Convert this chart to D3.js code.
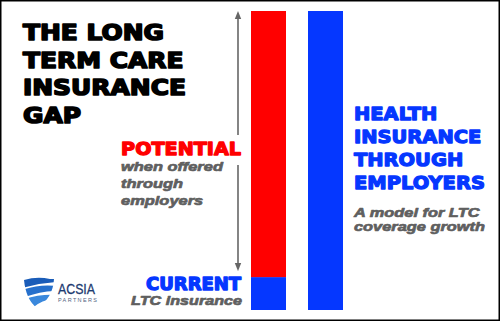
<!DOCTYPE html>
<html>
<head>
<meta charset="utf-8">
<script src="https://cdn.jsdelivr.net/npm/d3@7/dist/d3.min.js"></script>
<style>
  html, body { margin: 0; padding: 0; background: #fff; }
  svg { display: block; }
</style>
</head>
<body>
<svg id="chart" width="500" height="321"></svg>
<script>
// --- data -----------------------------------------------------------
const categories   = ["LTC", "Health"];
const currentLTC   = 11;    // share with LTC insurance today
const potentialLTC = 100;   // reachable when offered through employers
const healthTotal  = 100;   // health insurance through employers
const titleLines   = ["THE LONG", "TERM CARE", "INSURANCE", "GAP"];
const healthLines  = ["HEALTH", "INSURANCE", "THROUGH", "EMPLOYERS"];
const potentialSub = ["when offered", "through", "employers"];
const healthSub    = ["A model for LTC", "coverage growth"];

// --- setup ----------------------------------------------------------
const svg = d3.select("#chart");
const W = 500, H = 321;
const RED = "#ff0000", BLUE = "#0537ff", GRAY = "#5f5f5f";
const HEAVY = "'DejaVu Sans', 'Liberation Sans', sans-serif";

svg.append("rect").attr("x", 0.75).attr("y", 0.75)
  .attr("width", W - 1.5).attr("height", H - 1.5)
  .attr("fill", "#fff").attr("stroke", "#000").attr("stroke-width", 1.5);

const x = d3.scaleBand().domain(categories).range([251, 343]).paddingInner(0.386);
const y = d3.scaleLinear().domain([0, 100]).range([310, 11]);

// stacked LTC bar: current share at the bottom, potential above it
const ltcStack = [
  { key: "current",   y0: 0,          y1: currentLTC,   color: BLUE },
  { key: "potential", y0: currentLTC, y1: potentialLTC, color: RED }
];
svg.append("g").selectAll("rect").data(ltcStack).join("rect")
  .attr("x", x("LTC")).attr("width", x.bandwidth())
  .attr("y", d => y(d.y1)).attr("height", d => y(d.y0) - y(d.y1))
  .attr("fill", d => d.color);

svg.append("rect")
  .attr("x", x("Health")).attr("width", x.bandwidth())
  .attr("y", y(healthTotal)).attr("height", y(0) - y(healthTotal))
  .attr("fill", BLUE);

// --- gap arrow --------------------------------------------------------
const defs = svg.append("defs");
["up", "down"].forEach(dir => {
  defs.append("marker").attr("id", "arr-" + dir)
    .attr("viewBox", "0 0 10 10").attr("refX", 5).attr("refY", 5)
    .attr("markerWidth", 5).attr("markerHeight", 5)
    .attr("orient", dir === "up" ? 270 : 90)
    .append("path").attr("d", "M0,1 L10,5 L0,9 Z").attr("fill", "#666");
});
const ax = 238;
svg.append("line").attr("x1", ax).attr("x2", ax)
  .attr("y1", y(potentialLTC) + 4).attr("y2", 135)
  .attr("stroke", "#666").attr("stroke-width", 1.6)
  .attr("marker-start", "url(#arr-up)");
svg.append("line").attr("x1", ax).attr("x2", ax)
  .attr("y1", 165).attr("y2", y(currentLTC) - 10)
  .attr("stroke", "#666").attr("stroke-width", 1.6)
  .attr("marker-end", "url(#arr-down)");

// --- text helpers -----------------------------------------------------
// block text stretched horizontally so its widest line fills `width`
function textBlock(lines, opts) {
  const g = svg.append("g");
  const t = g.selectAll("text").data(lines).join("text")
    .attr("x", 0).attr("y", (d, i) => i * (opts.lead || 0))
    .attr("font-family", opts.family || HEAVY)
    .attr("font-weight", "bold")
    .attr("font-style", opts.italic ? "italic" : "normal")
    .attr("font-size", opts.size).attr("fill", opts.color)
    .attr("stroke", opts.color).attr("stroke-width", opts.stroke)
    .attr("stroke-linejoin", "round")
    .attr("text-anchor", opts.anchor || "start")
    .text(d => d);
  const natural = d3.max(t.nodes(), n => n.getComputedTextLength());
  const k = opts.width / natural;
  g.attr("transform", `translate(${opts.x},${opts.y}) scale(${k},1)`);
  return g;
}
const ITAL = "'Liberation Sans', Arial, sans-serif";

// --- titles and labels ------------------------------------------------
textBlock(titleLines, { x: 23, y: 40, lead: 27.7, size: 22, color: "#000", width: 163, stroke: 1.6 });

textBlock(["POTENTIAL"], { x: 241, y: 155, size: 18, color: RED, width: 120, anchor: "end", stroke: 1.3 });
textBlock(potentialSub, { x: 121, y: 171, lead: 16.8, size: 13.5, color: GRAY, width: 102,
  family: ITAL, italic: true, stroke: 0.7 });

textBlock(["CURRENT"], { x: 241, y: 290, size: 17, color: BLUE, width: 95, anchor: "end", stroke: 1.3 });
textBlock(["LTC insurance"], { x: 242, y: 305, size: 13.5, color: GRAY, width: 111, anchor: "end",
  family: ITAL, italic: true, stroke: 0.7 });

textBlock(healthLines, { x: 354, y: 120, lead: 23, size: 18.5, color: BLUE, width: 131, stroke: 1.3 });
textBlock(healthSub, { x: 354, y: 217, lead: 13.8, size: 13.5, color: GRAY, width: 131,
  family: ITAL, italic: true, stroke: 0.7 });

// --- ACSIA Partners logo ----------------------------------------------
const logo = svg.append("g").attr("transform", "translate(24,277)");
logo.append("clipPath").attr("id", "shield")
  .append("path").attr("d", "M0,3 Q13,-1 26,2 L30,2 Q29,21 13,31 Q2,23 0,3 Z");
const stripes = logo.append("g").attr("clip-path", "url(#shield)");
[
  { d: "M-2,0 L32,-2 L32,5 Q15,6 -2,11 Z",         c: "#1a5cb8" },
  { d: "M-2,13 Q15,7 32,9 L32,14 Q17,14 -2,21 Z",  c: "#2670cc" },
  { d: "M-2,23 Q15,17 32,18 L32,22 Q17,22 5,34 L-2,34 Z", c: "#3a88dc" }
].forEach(s => stripes.append("path").attr("d", s.d).attr("fill", s.c));
logo.append("text").attr("x", 34).attr("y", 17)
  .attr("font-family", "'Liberation Sans', Arial, sans-serif")
  .attr("font-size", 15.5).attr("fill", "#1d3a70")
  .attr("stroke", "#1d3a70").attr("stroke-width", 0.3)
  .attr("textLength", 37).attr("lengthAdjust", "spacingAndGlyphs").text("ACSIA");
logo.append("text").attr("x", 34).attr("y", 25)
  .attr("font-family", "'Liberation Sans', Arial, sans-serif")
  .attr("font-size", 5.5).attr("fill", "#55657f").attr("textLength", 39)
  .attr("lengthAdjust", "spacing").text("PARTNERS");
</script>
</body>
</html>
